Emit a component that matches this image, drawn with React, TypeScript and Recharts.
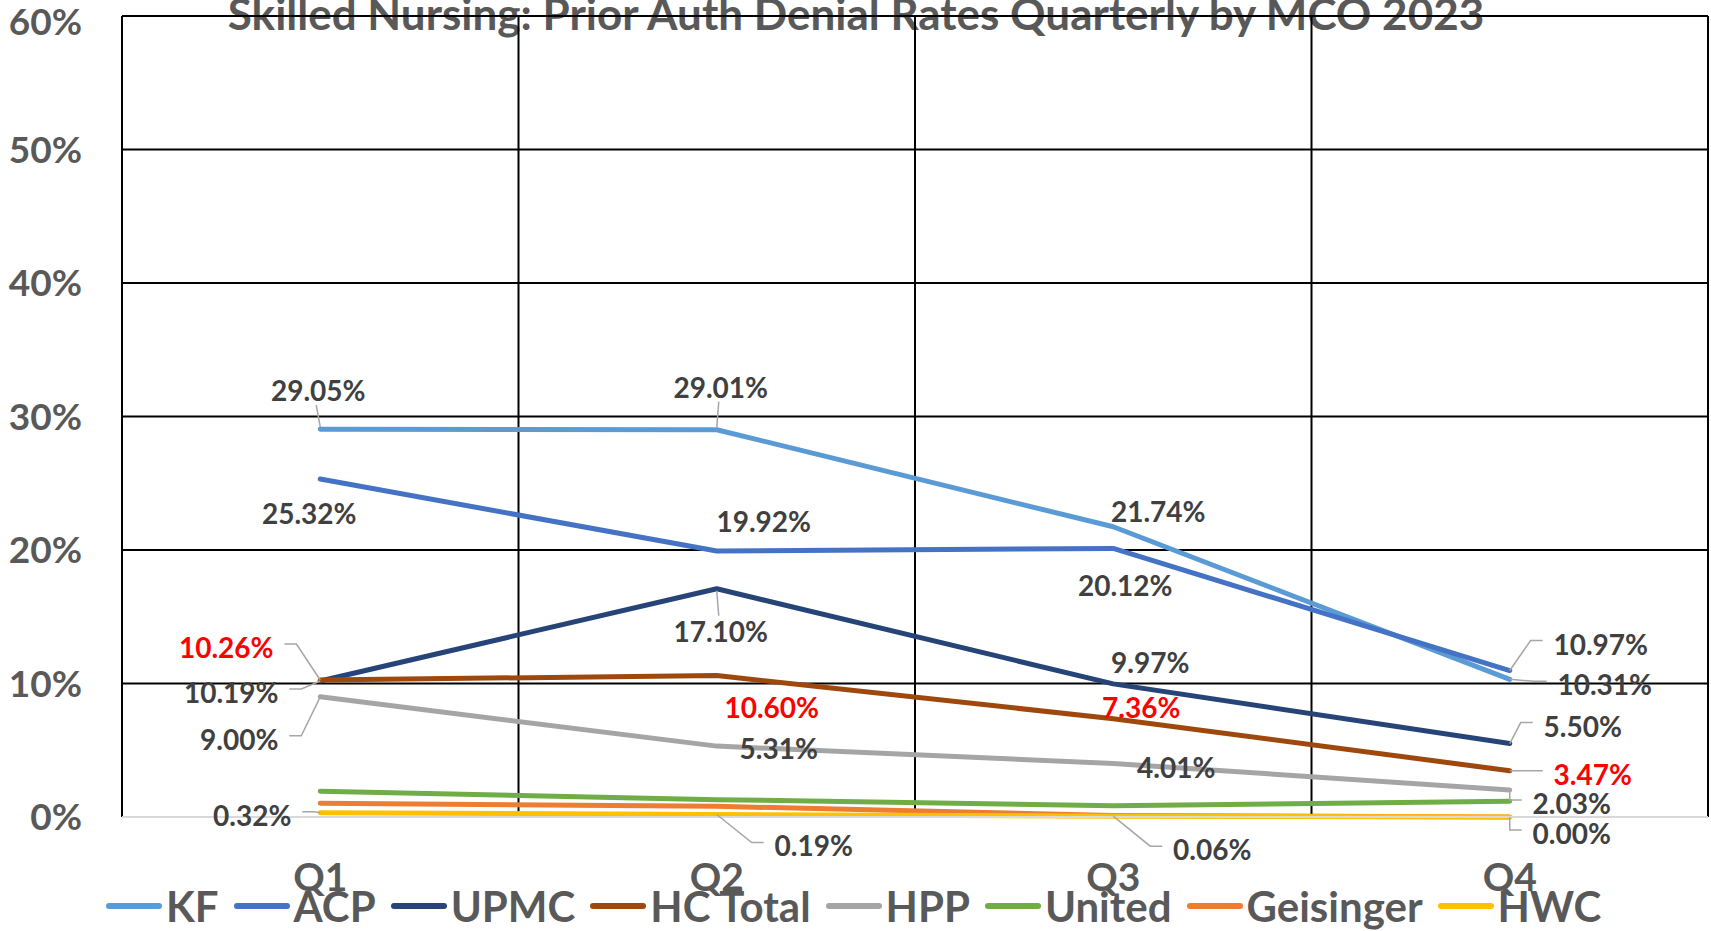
import React from 'react';
import { LineChart, Line, XAxis, YAxis, CartesianGrid, Legend, LabelList } from 'recharts';

// quarters and series values (percent)
const QUARTERS = ['Q1', 'Q2', 'Q3', 'Q4'];
const KF = [29.05, 29.01, 21.74, 10.31];
const ACP = [25.32, 19.92, 20.12, 10.97];
const UPMC = [10.19, 17.1, 9.97, 5.5];
const HC_TOTAL = [10.26, 10.6, 7.36, 3.47];
const HPP = [9.0, 5.31, 4.01, 2.03];
const UNITED = [1.93, 1.3, 0.85, 1.18];
const GEISINGER = [1.03, 0.8, 0.12, 0.0];
const HWC = [0.32, 0.19, 0.06, 0.0];
const Y_TICKS = [0, 10, 20, 30, 40, 50, 60];
const TITLE = 'Skilled Nursing: Prior Auth Denial Rates Quarterly by MCO 2023';

const SERIES = [
  { name: 'KF', values: KF, color: '#5B9BD5' },
  { name: 'ACP', values: ACP, color: '#4472C4' },
  { name: 'UPMC', values: UPMC, color: '#264478' },
  { name: 'HC Total', values: HC_TOTAL, color: '#9E480E' },
  { name: 'HPP', values: HPP, color: '#A5A5A5' },
  { name: 'United', values: UNITED, color: '#70AD47' },
  { name: 'Geisinger', values: GEISINGER, color: '#ED7D31' },
  { name: 'HWC', values: HWC, color: '#FFC000' },
];

const data = QUARTERS.map((q, i) => {
  const row: Record<string, number | string> = { pos: i + 1, quarter: q };
  SERIES.forEach((s) => (row[s.name] = s.values[i]));
  return row;
});

const FONT = 'Lato, "Open Sans", sans-serif';
const LABEL_SIZE = 28;

// label placement relative to the point: [dx, dy, leader]
type Leader = 'h' | 'v' | 'none';
const LABEL_LAYOUT: Record<string, [number, number, Leader][]> = {
  KF: [[-2, -39, 'v'], [4, -43, 'v'], [45, -16, 'none'], [95, 5, 'h']],
  ACP: [[-11, 34, 'none'], [47, -30, 'none'], [12, 37, 'none'], [91, -27, 'h']],
  UPMC: [[-89, 11, 'h'], [4, 42, 'v'], [37, -22, 'none'], [73, -18, 'h']],
  'HC Total': [[-94, -33, 'h'], [55, 32, 'none'], [28, -12, 'none'], [83, 3, 'h']],
  HPP: [[-81, 42, 'h'], [62, 2, 'none'], [63, 4, 'none'], [62, 13, 'h']],
  HWC: [[-68, 2, 'h'], [97, 31, 'h'], [99, 33, 'h'], [62, 16, 'h']],
};

const textWidth = (s: string) =>
  s.split('').reduce((w, c) => w + (c === '.' ? 0.26 : c === '%' ? 0.86 : 0.58), 0) * LABEL_SIZE;

const makeLabel = (name: string, values: number[]) => (props: any) => {
  let index: number = props.index;
  if (index === undefined) index = values.indexOf(Number(props.value));
  const layout = LABEL_LAYOUT[name]?.[index];
  if (!layout) return null;
  const px = props.x ?? props.viewBox?.x;
  const py = props.y ?? props.viewBox?.y;
  const [dx, dy, leader] = layout;
  const cx = px + dx;
  const cy = py + dy;
  const text = `${Number(props.value).toFixed(2)}%`;
  const w = textWidth(text);
  let path = '';
  if (leader === 'h') {
    const side = dx > 0 ? -1 : 1;
    const edge = cx + (side * w) / 2;
    const s1 = edge + side * 10;
    let s2 = s1 + side * 12;
    if ((side === -1 && s2 < px) || (side === 1 && s2 > px)) s2 = px;
    path = `M${s1},${cy - 3} L${s2},${cy - 3} L${px},${py}`;
  } else if (leader === 'v') {
    if (dy < 0) path = `M${cx - 2},${cy + 15} L${px},${py - 2}`;
    else path = `M${px},${py + 2} L${cx - 2},${cy - 15}`;
  }
  return (
    <g>
      {path && <path d={path} fill="none" stroke="#A6A6A6" strokeWidth={1.5} />}
      <text
        x={cx}
        y={cy}
        textAnchor="middle"
        dominantBaseline="central"
        fontFamily={FONT}
        fontWeight={700}
        fontSize={LABEL_SIZE}
        fill={name === 'HC Total' ? '#FF0000' : '#404040'}
      >
        {text}
      </text>
    </g>
  );
};

const renderLegend = () => (
  <div
    style={{
      display: 'flex',
      alignItems: 'center',
      paddingLeft: 106,
      height: 50,
      fontFamily: FONT,
      fontWeight: 700,
      fontSize: 42,
      color: '#595959',
      whiteSpace: 'nowrap',
    }}
  >
    {SERIES.map((s) => (
      <div key={s.name} style={{ display: 'flex', alignItems: 'center', marginRight: 15 }}>
        <span
          style={{ display: 'inline-block', width: 56, height: 6, borderRadius: 3, background: s.color, marginRight: 4 }}
        />
        <span>{s.name}</span>
      </div>
    ))}
  </div>
);

export default function App() {
  return (
    <div style={{ position: 'absolute', left: 0, top: 0, width: 1711, height: 931, background: '#fff' }}>
      <svg width={1711} height={60} style={{ position: 'absolute', left: 0, top: 0 }}>
        <text x={856} y={30} textAnchor="middle" fontFamily={FONT} fontWeight={700} fontSize={44} fill="#595959">
          {TITLE}
        </text>
      </svg>
      <div style={{ position: 'absolute', left: 0, top: 0 }}>
        <LineChart width={1711} height={931} data={data} margin={{ top: 16, right: 3, bottom: 0, left: 0 }}>
          <CartesianGrid
            stroke="#000"
            strokeWidth={2}
            verticalValues={[0.5, 1.5, 2.5, 3.5, 4.5]}
          />
          <XAxis
            dataKey="pos"
            type="number"
            domain={[0.5, 4.5]}
            ticks={[1, 2, 3, 4]}
            tickFormatter={(v) => QUARTERS[v - 1]}
            height={64}
            tickSize={0}
            tickMargin={46}
            axisLine={{ stroke: '#D9D9D9', strokeWidth: 2 }}
            tick={{ fontFamily: FONT, fontWeight: 700, fontSize: 39, fill: '#595959' }}
          />
          <YAxis
            domain={[0, 60]}
            ticks={Y_TICKS}
            tickFormatter={(v) => `${v}%`}
            width={122}
            tickSize={0}
            tickMargin={40}
            axisLine={false}
            tick={{ fontFamily: FONT, fontWeight: 700, fontSize: 37, fill: '#595959' }}
          />
          <Legend verticalAlign="bottom" height={50} content={renderLegend} wrapperStyle={{ left: 0, width: 1711 }} />
          {SERIES.map((s) => (
            <Line
              key={s.name}
              dataKey={s.name}
              stroke={s.color}
              strokeWidth={5}
              strokeLinecap="round"
              strokeLinejoin="round"
              dot={false}
              activeDot={false}
              isAnimationActive={false}
            >
              {LABEL_LAYOUT[s.name] && <LabelList dataKey={s.name} content={makeLabel(s.name, s.values)} />}
            </Line>
          ))}
        </LineChart>
      </div>
    </div>
  );
}
